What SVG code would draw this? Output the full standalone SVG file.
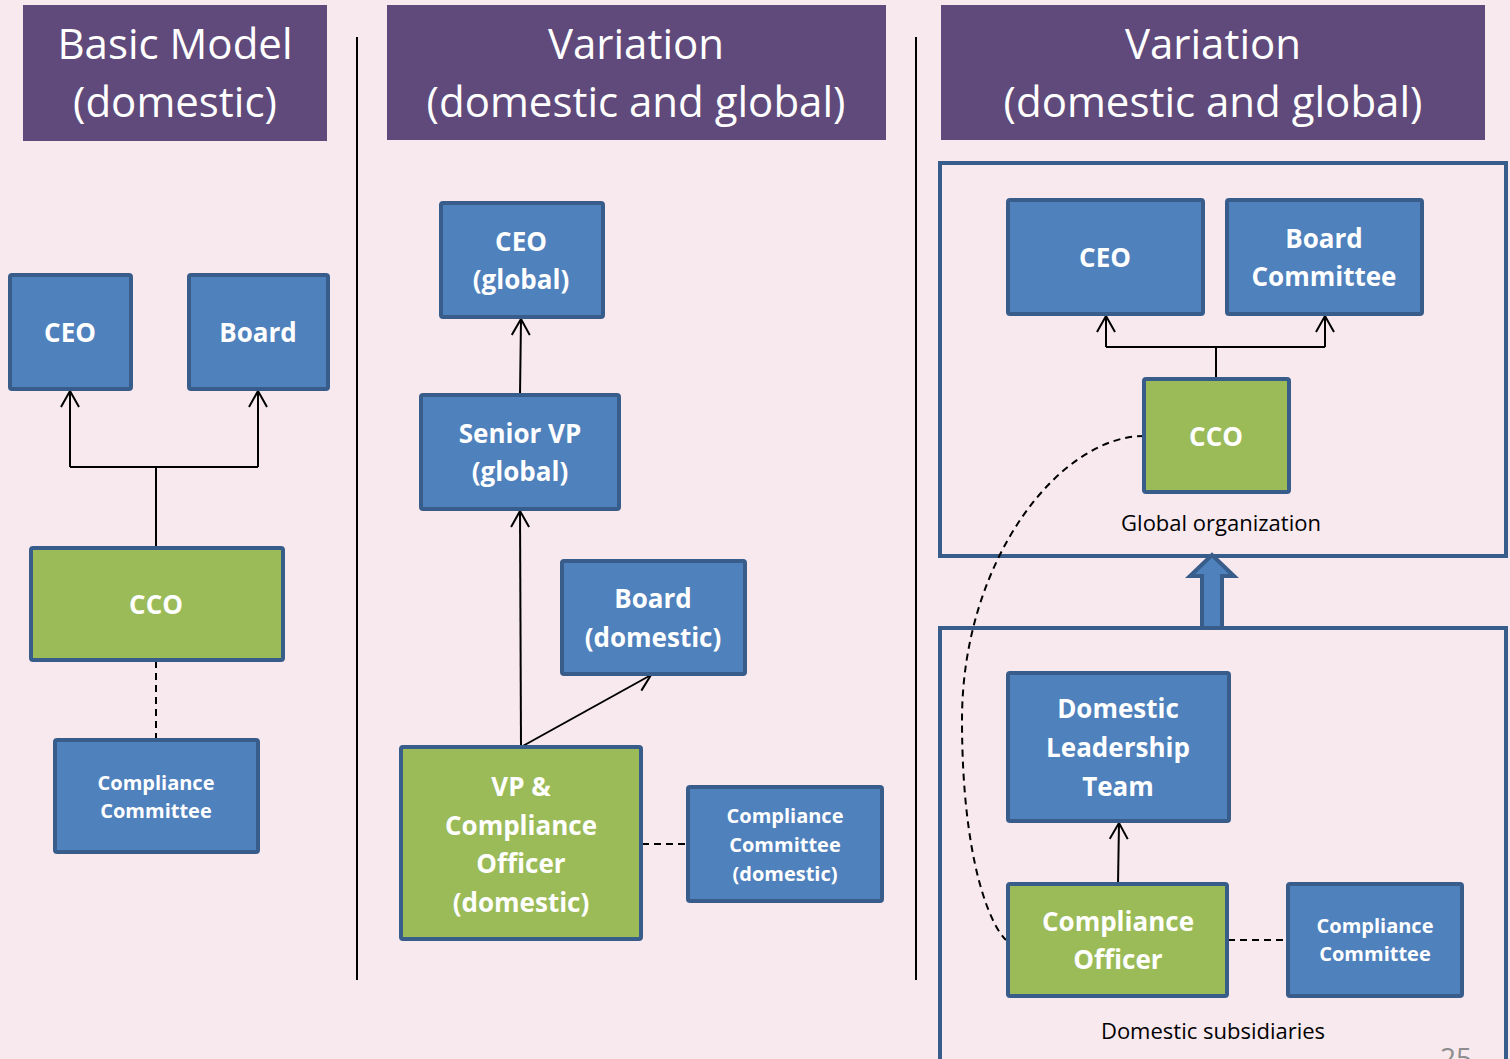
<svg xmlns="http://www.w3.org/2000/svg" width="1510" height="1059" viewBox="0 0 1510 1059">
<defs>
<style>
.hdr{fill:#604A7B}
.ht{fill:#fff;font-family:"Open Sans","DejaVu Sans",sans-serif;font-size:42px;text-anchor:middle}
.b{fill:#4F81BD;stroke:#385D8A;stroke-width:4}
.g{fill:#9BBB59;stroke:#385D8A;stroke-width:4}
.t{fill:#fff;font-family:"Open Sans","DejaVu Sans",sans-serif;font-weight:bold;font-size:26px;text-anchor:middle}
.ts{fill:#fff;font-family:"Open Sans","DejaVu Sans",sans-serif;font-weight:bold;font-size:20px;text-anchor:middle}
.lbl{fill:#000;font-family:"Open Sans","DejaVu Sans",sans-serif;font-size:22px;text-anchor:middle}
.c{fill:none;stroke:#000;stroke-width:2}
.d{fill:none;stroke:#000;stroke-width:2;stroke-dasharray:7,5}
.cont{fill:none;stroke:#385D8A;stroke-width:4}
</style>
<marker id="arr" viewBox="0 0 20 20" refX="18" refY="10" markerWidth="20" markerHeight="20" markerUnits="userSpaceOnUse" orient="auto">
<path d="M2,1 L18,10 L2,19" fill="none" stroke="#000" stroke-width="2"/>
</marker>
</defs>
<rect width="1510" height="1059" fill="#F8E9EF"/>

<g id="headers">
<rect class="hdr" x="23" y="5" width="304" height="136"/>
<text class="ht" x="175" y="59">Basic Model</text>
<text class="ht" x="175" y="117">(domestic)</text>
<rect class="hdr" x="387" y="5" width="499" height="135"/>
<text class="ht" x="636" y="59">Variation</text>
<text class="ht" x="636" y="117">(domestic and global)</text>
<rect class="hdr" x="941" y="5" width="544" height="135"/>
<text class="ht" x="1213" y="59">Variation</text>
<text class="ht" x="1213" y="117">(domestic and global)</text>
</g>

<g id="dividers">
<line x1="357" y1="37" x2="357" y2="980" stroke="#000" stroke-width="2"/>
<line x1="916" y1="37" x2="916" y2="980" stroke="#000" stroke-width="2"/>
</g>

<g id="containers">
<rect class="cont" x="940" y="163" width="566" height="393"/>
<text class="lbl" x="1221" y="531">Global organization</text>
<rect class="cont" x="940" y="628" width="566" height="440"/>
<text class="lbl" x="1213" y="1039">Domestic subsidiaries</text>
<path d="M1202,628 L1202,576 L1190,576 L1212,555 L1234,576 L1222,576 L1222,628 Z" fill="#4F81BD" stroke="#385D8A" stroke-width="4" stroke-linejoin="miter"/>
</g>

<g id="connectors">
<path class="c" d="M156,548 L156,467 M70,467 L258,467"/>
<path class="c" d="M70,467 L70,391" marker-end="url(#arr)"/>
<path class="c" d="M258,467 L258,391" marker-end="url(#arr)"/>
<path class="d" d="M156,661 L156,740"/>
<path class="c" d="M520,395 L521,319" marker-end="url(#arr)"/>
<path class="c" d="M521,747 L520,511" marker-end="url(#arr)"/>
<path class="c" d="M521,747 L651,675" marker-end="url(#arr)"/>
<path class="d" d="M642,844 L688,844"/>
<path class="c" d="M1216,379 L1216,347 M1106,347 L1325,347"/>
<path class="c" d="M1106,347 L1106,316" marker-end="url(#arr)"/>
<path class="c" d="M1325,347 L1325,316" marker-end="url(#arr)"/>
<path class="c" d="M1118,884 L1119,823" marker-end="url(#arr)"/>
<path class="d" d="M1228,940 L1288,940"/>
<path class="d" d="M1144,436 C1060,436 962,560 962,720 C962,860 990,925 1006,940"/>
</g>

<g id="n-ceo1"><rect class="b" x="10" y="275" width="121" height="114" rx="2"/><text class="t" x="70" y="342">CEO</text></g>
<g id="n-board1"><rect class="b" x="189" y="275" width="139" height="114" rx="2"/><text class="t" x="258" y="342">Board</text></g>
<g id="n-cco1"><rect class="g" x="31" y="548" width="252" height="112" rx="2"/><text class="t" x="156" y="614">CCO</text></g>
<g id="n-cc1"><rect class="b" x="55" y="740" width="203" height="112" rx="2"/><text class="ts" x="156" y="790">Compliance</text><text class="ts" x="156" y="818">Committee</text></g>

<g id="n-ceo2"><rect class="b" x="441" y="203" width="162" height="114" rx="2"/><text class="t" x="521" y="251">CEO</text><text class="t" x="521" y="289">(global)</text></g>
<g id="n-svp2"><rect class="b" x="421" y="395" width="198" height="114" rx="2"/><text class="t" x="520" y="443">Senior VP</text><text class="t" x="520" y="481">(global)</text></g>
<g id="n-board2"><rect class="b" x="562" y="561" width="183" height="113" rx="2"/><text class="t" x="653" y="608">Board</text><text class="t" x="653" y="647">(domestic)</text></g>
<g id="n-vp2"><rect class="g" x="401" y="747" width="240" height="192" rx="2"/><text class="t" x="521" y="796">VP &amp;</text><text class="t" x="521" y="835">Compliance</text><text class="t" x="521" y="873">Officer</text><text class="t" x="521" y="912">(domestic)</text></g>
<g id="n-cc2"><rect class="b" x="688" y="787" width="194" height="114" rx="2"/><text class="ts" x="785" y="823">Compliance</text><text class="ts" x="785" y="852">Committee</text><text class="ts" x="785" y="881">(domestic)</text></g>

<g id="n-ceo3"><rect class="b" x="1008" y="200" width="195" height="114" rx="2"/><text class="t" x="1105" y="267">CEO</text></g>
<g id="n-board3"><rect class="b" x="1227" y="200" width="195" height="114" rx="2"/><text class="t" x="1324" y="248">Board</text><text class="t" x="1324" y="286">Committee</text></g>
<g id="n-cco3"><rect class="g" x="1144" y="379" width="145" height="113" rx="2"/><text class="t" x="1216" y="446">CCO</text></g>
<g id="n-dlt3"><rect class="b" x="1008" y="673" width="221" height="148" rx="2"/><text class="t" x="1118" y="718">Domestic</text><text class="t" x="1118" y="757">Leadership</text><text class="t" x="1118" y="796">Team</text></g>
<g id="n-co3"><rect class="g" x="1008" y="884" width="219" height="112" rx="2"/><text class="t" x="1118" y="931">Compliance</text><text class="t" x="1118" y="969">Officer</text></g>
<g id="n-cc3"><rect class="b" x="1288" y="884" width="174" height="112" rx="2"/><text class="ts" x="1375" y="933">Compliance</text><text class="ts" x="1375" y="961">Committee</text></g>

<text x="1456" y="1068" fill="#8C8C8C" font-family="Open Sans, sans-serif" font-size="28" text-anchor="middle">25</text>
</svg>
